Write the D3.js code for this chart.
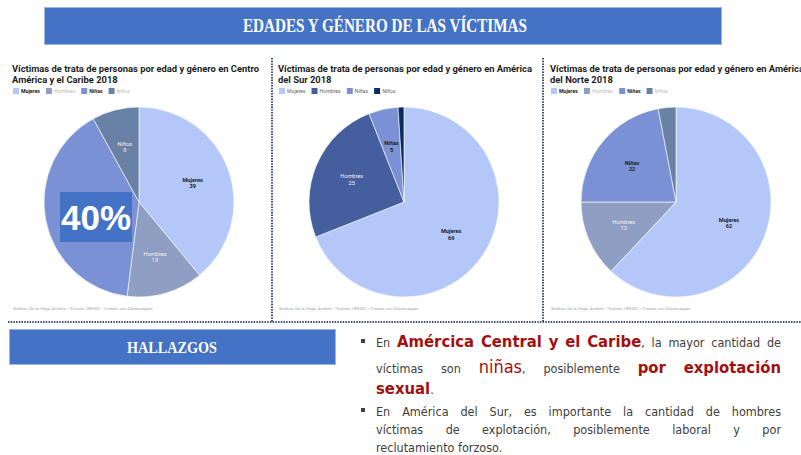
<!DOCTYPE html>
<html>
<head>
<meta charset="utf-8">
<script src="https://cdn.jsdelivr.net/npm/d3@7"></script>
<style>
  body { margin: 0; background: #fff; }
  svg { display: block; }
</style>
</head>
<body>
<script>
// data
let categories = ["Mujeres", "Hombres", "Niñas", "Niños"];
let centroValues = [39, 13, 40, 8];
let surValues = [69, 25, 5, 1];
let norteValues = [62, 13, 22, 3];

let centroTitle = ["Víctimas de trata de personas por edad y género en Centro", "América y el Caribe 2018"];
let surTitle = ["Víctimas de trata de personas por edad y género en América", "del Sur 2018"];
let norteTitle = ["Víctimas de trata de personas por edad y género en América", "del Norte 2018"];

let centroColors = ["#b3c8f8", "#8f9fc3", "#7a92d5", "#6a81a6"];
let surColors = ["#b3c8f8", "#445e9e", "#7a92d5", "#0d2b62"];
let norteColors = ["#b3c8f8", "#8f9fc3", "#7a92d5", "#6a81a6"];

// which legend entries are highlighted (bold)
let centroHighlight = [true, false, true, false];
let surHighlight = [false, false, false, false];
let norteHighlight = [true, false, true, false];

// label text colour inside slices
let centroLabelColors = ["#1a1a1a", "#f2f2f2", "#1a1a1a", "#f2f2f2"];
let surLabelColors = ["#1a1a1a", "#f2f2f2", "#1a1a1a", "#f2f2f2"];
let norteLabelColors = ["#1a1a1a", "#f2f2f2", "#1a1a1a", "#f2f2f2"];

// which slice labels are visible (Niñas in Centro is covered by the 40% box)
let centroShowLabel = [true, true, false, true];
let surShowLabel = [true, true, true, false];
let norteShowLabel = [true, true, true, false];

let footerText = "Gráfico: De la Vega, Andrés. • Fuente: UNODC • Creado con Datawrapper";
let headerText = "EDADES Y GÉNERO DE LAS VÍCTIMAS";
let findingsHeader = "HALLAZGOS";

// findings text, one array per printed line: [text, style]
let findingLines = [
  { bullet: true, justify: true, segs: [["En ", "n"], ["Amércica Central y el Caribe", "R"], [", la mayor cantidad de", "n"]] },
  { bullet: false, justify: true, segs: [["víctimas son ", "n"], ["niñas", "r"], [", posiblemente ", "n"], ["por explotación", "R"]] },
  { bullet: false, justify: false, segs: [["sexual", "R"], [".", "n"]] },
  { bullet: true, justify: true, segs: [["En América del Sur, es importante la cantidad de hombres", "n"]] },
  { bullet: false, justify: true, segs: [["víctimas de explotación, posiblemente laboral y por", "n"]] },
  { bullet: false, justify: false, segs: [["reclutamiento forzoso.", "n"]] }
];

let width = 801;
let height = 455;
let blue = "#4472c4";
let chartFont = "Roboto, 'Noto Sans', sans-serif";
let bodyFont = "'Liberation Sans Narrow', 'DejaVu Sans Condensed', Roboto, sans-serif";

let svg = d3.select("body").append("svg")
  .attr("width", width)
  .attr("height", height);

// header banner
svg.append("rect")
  .attr("x", 44.5).attr("y", 7.5)
  .attr("width", 677).attr("height", 37)
  .attr("fill", blue)
  .attr("stroke", "#9db5e3")
  .attr("stroke-width", 1);

svg.append("text")
  .attr("x", 385).attr("y", 32)
  .attr("text-anchor", "middle")
  .attr("fill", "#fff")
  .attr("font-family", "'Liberation Serif', 'DejaVu Serif', serif")
  .attr("font-weight", "bold")
  .attr("font-size", 18)
  .attr("textLength", 284)
  .attr("lengthAdjust", "spacingAndGlyphs")
  .text(headerText);

let charts = [
  { title: centroTitle, values: centroValues, colors: centroColors, highlight: centroHighlight, labelColors: centroLabelColors, show: centroShowLabel, x0: 12, cx: 139 },
  { title: surTitle, values: surValues, colors: surColors, highlight: surHighlight, labelColors: surLabelColors, show: surShowLabel, x0: 278, cx: 404 },
  { title: norteTitle, values: norteValues, colors: norteColors, highlight: norteHighlight, labelColors: norteLabelColors, show: norteShowLabel, x0: 550, cx: 676 }
];

let radius = 95;
let cy = 202;

let pie = d3.pie().sort(null).value(d => d.value);
let arc = d3.arc().innerRadius(0).outerRadius(radius);
let labelArc = d3.arc().innerRadius(radius * 0.6).outerRadius(radius * 0.6);

charts.forEach(c => {
  let g = svg.append("g");

  // title
  g.append("text")
    .attr("x", c.x0).attr("y", 72)
    .attr("font-family", chartFont)
    .attr("font-weight", "bold")
    .attr("font-size", 9.4)
    .attr("fill", "#1d1d1d")
    .selectAll("tspan")
    .data(c.title)
    .enter()
    .append("tspan")
    .attr("x", c.x0)
    .attr("dy", (d, i) => i === 0 ? 0 : 11)
    .text(d => d);

  // legend
  let lx = c.x0 + 1;
  categories.forEach((cat, i) => {
    g.append("rect")
      .attr("x", lx).attr("y", 88)
      .attr("width", 6).attr("height", 6)
      .attr("fill", c.colors[i]);
    let t = g.append("text")
      .attr("x", lx + 8).attr("y", 93.3)
      .attr("font-family", chartFont)
      .attr("font-size", 5.2)
      .attr("font-weight", c.highlight[i] ? "bold" : "normal")
      .attr("fill", c.highlight[i] ? "#222" : (c.highlight.some(h => h) ? "#bbb" : "#666"))
      .text(cat);
    lx += 8 + t.node().getComputedTextLength() + 6;
  });

  let data = categories.map((cat, i) => ({ name: cat, value: c.values[i], i: i }));
  let arcs = pie(data);

  let pg = g.append("g").attr("transform", `translate(${c.cx},${cy})`);

  pg.selectAll("path")
    .data(arcs)
    .enter()
    .append("path")
    .attr("d", arc)
    .attr("fill", d => c.colors[d.data.i])
    .attr("stroke", "#fff")
    .attr("stroke-width", 0.6);

  let labels = pg.selectAll(".lbl")
    .data(arcs.filter(d => c.show[d.data.i]))
    .enter()
    .append("text")
    .attr("class", "lbl")
    .attr("transform", d => `translate(${labelArc.centroid(d)})`)
    .attr("text-anchor", "middle")
    .attr("font-family", chartFont)
    .attr("font-size", 5.6)
    .attr("fill", d => c.labelColors[d.data.i]);

  labels.append("tspan")
    .attr("x", 0).attr("y", -1)
    .attr("font-weight", d => c.labelColors[d.data.i] === "#1a1a1a" ? "bold" : "normal")
    .text(d => d.data.name);
  labels.append("tspan")
    .attr("x", 0).attr("y", 5.5)
    .attr("font-weight", d => c.labelColors[d.data.i] === "#1a1a1a" ? "bold" : "normal")
    .text(d => d.data.value);

  // footer
  g.append("text")
    .attr("x", c.x0 + 1).attr("y", 310)
    .attr("font-family", chartFont)
    .attr("font-size", 4.4)
    .attr("fill", "#a5a5a5")
    .text(footerText);
});

// 40% overlay box on the Central America pie
let pctText = Math.round(centroValues[2] / d3.sum(centroValues) * 100) + "%";
svg.append("rect")
  .attr("x", 60).attr("y", 192)
  .attr("width", 72).attr("height", 50)
  .attr("fill", blue);
svg.append("text")
  .attr("x", 96).attr("y", 230)
  .attr("text-anchor", "middle")
  .attr("fill", "#fff")
  .attr("font-family", "'Liberation Sans', Arial, sans-serif")
  .attr("font-weight", "bold")
  .attr("font-size", 35)
  .text(pctText);

// dotted separators
let dot = "#3f4f75";
[272, 543].forEach(x => {
  svg.append("line")
    .attr("x1", x).attr("x2", x)
    .attr("y1", 58).attr("y2", 322)
    .attr("stroke", dot)
    .attr("stroke-width", 2)
    .attr("stroke-dasharray", "1.5,1.2");
});
svg.append("line")
  .attr("x1", 8).attr("x2", 801)
  .attr("y1", 322).attr("y2", 322)
  .attr("stroke", dot)
  .attr("stroke-width", 2)
  .attr("stroke-dasharray", "1.5,1.2");

// findings header box
svg.append("rect")
  .attr("x", 9.5).attr("y", 329.5)
  .attr("width", 326).attr("height", 35)
  .attr("fill", blue)
  .attr("stroke", "#9db5e3")
  .attr("stroke-width", 1);
svg.append("text")
  .attr("x", 172).attr("y", 353)
  .attr("text-anchor", "middle")
  .attr("fill", "#fff")
  .attr("font-family", "'Liberation Serif', 'DejaVu Serif', serif")
  .attr("font-weight", "bold")
  .attr("font-size", 17)
  .attr("textLength", 90)
  .attr("lengthAdjust", "spacingAndGlyphs")
  .text(findingsHeader);

// findings paragraph, justified word by word
let styles = {
  n: { size: 12.5, weight: "normal", fill: "#404040" },
  R: { size: 16.5, weight: "bold", fill: "#a2100f" },
  r: { size: 18, weight: "normal", fill: "#a2100f" }
};
let baselines = [347, 373, 394, 416, 434, 452];
let textLeft = 376;
let textRight = 781;

function toWords(segs) {
  let words = [];
  let cur = [];
  segs.forEach(([txt, st]) => {
    txt.split(" ").forEach((p, i) => {
      if (i > 0 && cur.length) { words.push(cur); cur = []; }
      if (p) cur.push([p, st]);
    });
  });
  if (cur.length) words.push(cur);
  return words;
}

findingLines.forEach((line, li) => {
  let y = baselines[li];
  if (line.bullet) {
    svg.append("rect")
      .attr("x", 361).attr("y", y - 8)
      .attr("width", 4).attr("height", 4)
      .attr("fill", "#404040");
  }
  let words = toWords(line.segs);
  let nodes = words.map(w => {
    let t = svg.append("text")
      .attr("y", y)
      .attr("font-family", bodyFont);
    w.forEach(([txt, st]) => {
      t.append("tspan")
        .attr("font-size", styles[st].size)
        .attr("font-weight", styles[st].weight)
        .attr("fill", styles[st].fill)
        .text(txt);
    });
    return t;
  });
  let widths = nodes.map(t => t.node().getComputedTextLength());
  let total = d3.sum(widths);
  let gap = line.justify && nodes.length > 1 ? (textRight - textLeft - total) / (nodes.length - 1) : 3.5;
  let x = textLeft;
  nodes.forEach((t, i) => {
    t.attr("x", x);
    x += widths[i] + gap;
  });
});
</script>
</body>
</html>
